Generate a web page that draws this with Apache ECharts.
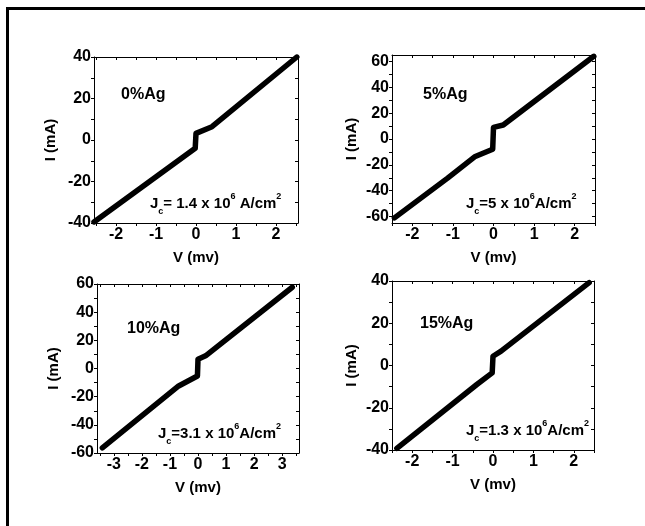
<!DOCTYPE html>
<html><head><meta charset="utf-8">
<script src="https://cdn.jsdelivr.net/npm/echarts@6/dist/echarts.min.js"></script>
<style>html,body{margin:0;padding:0;background:#fff}#c{width:645px;height:526px}</style>
</head><body><div id="c"></div>
<script>
// Panel data (V in mV, I in mA)
const labels = ['0%Ag', '5%Ag', '10%Ag', '15%Ag'];
const jcValues = ['1.4', '5', '3.1', '1.3'];
const v0 = [-2.55, -0.02, 0, 0.4, 2.52];
const i0 = [-39.5, -4.0, 3.2, 6.4, 40.0];
const v1 = [-2.44, -1.13, -0.45, -0.02, 0, 0.24, 2.47];
const i1 = [-61.0, -30.3, -13.5, -7.9, 9.0, 10.8, 64.0];
const v2 = [-3.41, -0.69, -0.02, 0, 0.27, 3.36];
const i2 = [-56.3, -12.4, -5.3, 6.6, 9.0, 57.7];
const v3 = [-2.38, -0.4, -0.02, 0, 0.2, 2.38];
const i3 = [-39.2, -9.0, -3.5, 4.4, 6.8, 39.2];
// axis ranges and tick labels
const xMin = [-2.55, -2.5, -3.6, -2.5], xMax = [2.55, 2.5, 3.6, 2.5];
const yMin = [-40, -65, -60, -40], yMax = [40, 65, 60, 40];
const xTickLabels = [[-2, -1, 0, 1, 2], [-2, -1, 0, 1, 2], [-3, -2, -1, 0, 1, 2, 3], [-2, -1, 0, 1, 2]];
const yTickLabels = [[-40, -20, 0, 20, 40], [-60, -40, -20, 0, 20, 40, 60], [-60, -40, -20, 0, 20, 40, 60], [-40, -20, 0, 20, 40]];

const Vs = [v0, v1, v2, v3], Is = [i0, i1, i2, i3];
const FONT = 'Liberation Sans, Arial, sans-serif';
const NARROW = 'Liberation Sans Narrow, Arial Narrow, Liberation Sans, sans-serif';
// tick positions: labelled ticks plus midpoints, within range
function withMinor(arr, lo, hi) {
  const step = arr[1] - arr[0];
  const out = [];
  for (let j = 0; j < arr.length; j++) {
    out.push(arr[j]);
    const a = arr[j] - step / 2, b = arr[j] + step / 2;
    if (j === 0 && a >= lo - 1e-9) out.push(a);
    if (b <= hi + 1e-9) out.push(b);
  }
  return Array.from(new Set(out)).sort((p, q) => p - q);
}
const grids = [
  {left: 94, top: 57, width: 204, height: 166},
  {left: 392, top: 55, width: 203, height: 168},
  {left: 97, top: 284, width: 202, height: 169},
  {left: 392, top: 281, width: 202, height: 169}
];
const xAxis = [], yAxis = [], series = [];
const lab = {color: '#000', fontFamily: NARROW, fontWeight: 'bold', fontSize: 16};
const nameStyle = {color: '#000', fontFamily: FONT, fontWeight: 'bold', fontSize: 15};
const axLine = {show: true, onZero: false, lineStyle: {color: '#000', width: 1}};
grids.forEach((g, k) => {
  const xt = withMinor(xTickLabels[k], xMin[k], xMax[k]);
  const yt = withMinor(yTickLabels[k], yMin[k], yMax[k]);
  xAxis.push({type: 'value', gridIndex: k, min: xMin[k], max: xMax[k], position: 'bottom',
    name: 'V (mv)', nameLocation: 'middle', nameGap: 27, nameTextStyle: nameStyle,
    axisLine: axLine,
    axisTick: {show: true, length: 3, customValues: xt, lineStyle: {color: '#000'}},
    splitLine: {show: false},
    axisLabel: Object.assign({margin: 4, customValues: xTickLabels[k]}, lab)});
  xAxis.push({type: 'value', gridIndex: k, min: xMin[k], max: xMax[k], position: 'top',
    axisLine: axLine,
    axisTick: {show: true, inside: true, length: 3, customValues: xt, lineStyle: {color: '#000'}},
    axisLabel: {show: false}, splitLine: {show: false}});
  yAxis.push({type: 'value', gridIndex: k, min: yMin[k], max: yMax[k], position: 'left',
    name: 'I (mA)', nameLocation: 'middle', nameGap: k % 2 ? 33 : 36, nameTextStyle: nameStyle,
    axisLine: axLine,
    axisTick: {show: true, length: 3, customValues: yt, lineStyle: {color: '#000'}},
    splitLine: {show: false},
    axisLabel: Object.assign({margin: 3, customValues: yTickLabels[k]}, lab)});
  yAxis.push({type: 'value', gridIndex: k, min: yMin[k], max: yMax[k], position: 'right',
    axisLine: axLine,
    axisTick: {show: true, inside: true, length: 3, customValues: yt, lineStyle: {color: '#000'}},
    axisLabel: {show: false}, splitLine: {show: false}});
  series.push({type: 'line', xAxisIndex: 2 * k, yAxisIndex: 2 * k, showSymbol: false, symbol: 'none',
    lineStyle: {color: '#000', width: 5.5, join: 'round', cap: 'round'},
    data: Vs[k].map((v, j) => [v, Is[k][j]])});
});

const txtBase = {fill: '#000', fontFamily: FONT, fontWeight: 'bold', fontSize: 16};
const labelPos = [[121, 87], [423, 87], [127, 321], [420, 316]];
const jcPos = [[150, 192], [466, 192], [158, 422], [466, 419]];
const graphic = [
  {type: 'rect', shape: {x: 6, y: 7, width: 3, height: 519}, style: {fill: '#000'}},
  {type: 'rect', shape: {x: 6, y: 7, width: 639, height: 3}, style: {fill: '#000'}}
];
labels.forEach((t, k) => {
  graphic.push({type: 'text', left: labelPos[k][0], top: labelPos[k][1],
    style: Object.assign({text: t}, txtBase)});
  const sp = k === 0 ? ' ' : '';
  graphic.push({type: 'text', left: jcPos[k][0], top: jcPos[k][1],
    style: Object.assign({}, txtBase, {
      text: '{b|J}{s|c}{b|=' + sp + jcValues[k] + ' x 10}{u|6}{b|' + sp + 'A/cm}{u|2}',
      rich: {
        b: {fontFamily: FONT, fontWeight: 'bold', fontSize: 15, fill: '#000', lineHeight: 24, verticalAlign: 'middle'},
        s: {fontFamily: FONT, fontWeight: 'bold', fontSize: 9, fill: '#000', lineHeight: 24, verticalAlign: 'bottom'},
        u: {fontFamily: FONT, fontWeight: 'bold', fontSize: 9, fill: '#000', lineHeight: 24, verticalAlign: 'top'}
      }})});
});

const chart = echarts.init(document.getElementById('c'), null, {renderer: 'canvas'});
chart.setOption({animation: false, backgroundColor: '#fff', grid: grids, xAxis, yAxis, series, graphic});
</script></body></html>
